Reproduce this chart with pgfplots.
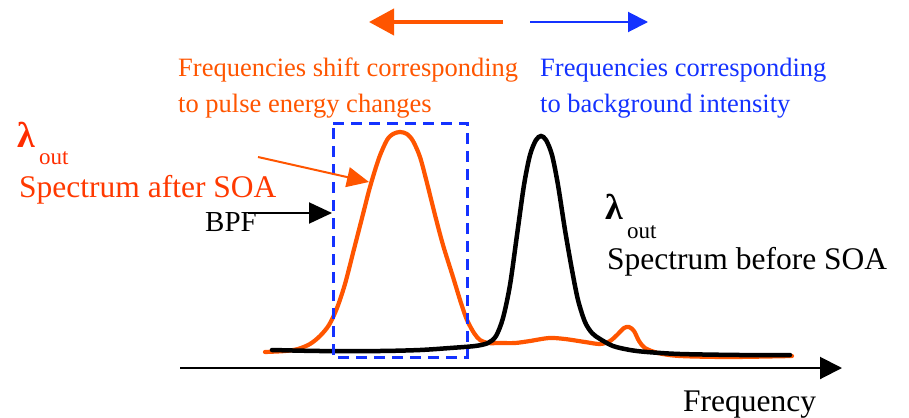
\documentclass[border=0pt]{standalone}
\usepackage{fontspec}
\setmainfont{Liberation Serif}
\usepackage{pgfplots}
\pgfplotsset{compat=1.18}
\usetikzlibrary{arrows.meta}
\definecolor{org}{RGB}{255,85,0}
\definecolor{orgred}{RGB}{255,45,0}
\definecolor{blu}{RGB}{20,50,255}
\newcommand{\fs}[1]{\fontsize{#1bp}{#1bp}\selectfont}
\begin{document}
\begin{tikzpicture}
\begin{axis}[scale only axis, width=909bp, height=417bp,
  xmin=0, xmax=909, ymin=0, ymax=417, y dir=reverse,
  hide axis, clip=false]
\addplot[draw=none] coordinates {(0,0) (909,417)};
% frequency axis
\addplot[black, line width=2bp, -{Triangle[length=22bp,width=22bp]}] coordinates {(180,368) (842,368)};
% orange spectrum (after SOA)
\addplot[org, line width=4.2bp, smooth, tension=0.5, line cap=round] coordinates {
(265,352) (285,351) (298,349) (310,344) (320,336) (329,325) (337,308) (345,284) (353,253)
(362,218) (370,187) (379,158) (387,140) (393,134) (400,132) (407,134) (413,141) (420,157)
(427,183) (435,215) (443,245) (453,277) (461,303) (467,320) (474,333) (480,340)
(488,343) (500,343) (515,343) (530,341) (549,338) (565,339) (585,342) (600,344)
(610,341) (618,334) (624,328) (629,327) (634,331) (639,341) (645,348) (658,353)
(680,356) (730,357) (792,356)};
% black spectrum (before SOA)
\addplot[black, line width=4.5bp, smooth, tension=0.5, line cap=round] coordinates {
(272,350) (320,351) (380,351) (420,350) (450,348) (475,346) (488,343) (496,336)
(503,318) (510,285) (517,235) (524,185) (530,155) (536,140) (541,136) (546,140)
(552,155) (558,185) (565,230) (572,270) (578,300) (585,322) (592,333) (600,339)
(613,346) (630,350) (647,352) (680,354) (740,355) (790,355)};
% BPF dashed box
\addplot[blu, line width=3bp, dash pattern=on 11bp off 7bp] coordinates {
(333,123) (467,123) (467,357) (333,357) (333,123)};
% top arrows
\addplot[org, line width=4bp, -{Triangle[length=25bp,width=26bp]}] coordinates {(503,22) (369,22)};
\addplot[blu, line width=2bp, -{Triangle[length=20bp,width=20bp]}] coordinates {(530,22) (648,22)};
% annotation arrows
\addplot[org, line width=2bp, -{Triangle[length=22bp,width=20bp]}] coordinates {(258,157) (369,182)};
\addplot[black, line width=2bp, -{Triangle[length=23bp,width=21bp]}] coordinates {(248,213) (332,213)};
% texts
\node[anchor=base west, inner sep=0, text=org, font=\fs{26.5}] at (axis cs:178,76) {Frequencies shift corresponding};
\node[anchor=base west, inner sep=0, text=org, font=\fs{26.5}] at (axis cs:178,112) {to pulse energy changes};
\node[anchor=base west, inner sep=0, text=blu, font=\fs{26.5}] at (axis cs:540,76) {Frequencies corresponding};
\node[anchor=base west, inner sep=0, text=blu, font=\fs{26.5}] at (axis cs:540,112) {to background intensity};
\node[anchor=base west, inner sep=0, text=orgred, font=\fs{36}\bfseries] at (axis cs:17,147) {λ};
\node[anchor=base west, inner sep=0, text=orgred, font=\fs{23}] at (axis cs:39,164) {out};
\node[anchor=base west, inner sep=0, text=orgred!70!org, font=\fs{31.5}] at (axis cs:19,197) {Spectrum after SOA};
\node[anchor=base west, inner sep=0, text=black, font=\fs{29}] at (axis cs:205,231) {BPF};
\node[anchor=base west, inner sep=0, text=black, font=\fs{36}\bfseries] at (axis cs:605,219) {λ};
\node[anchor=base west, inner sep=0, text=black, font=\fs{23}] at (axis cs:627,238) {out};
\node[anchor=base west, inner sep=0, text=black, font=\fs{31.5}] at (axis cs:607,269) {Spectrum before SOA};
\node[anchor=base west, inner sep=0, text=black, font=\fs{31.5}] at (axis cs:683,411) {Frequency};
\end{axis}
\end{tikzpicture}
\end{document}
